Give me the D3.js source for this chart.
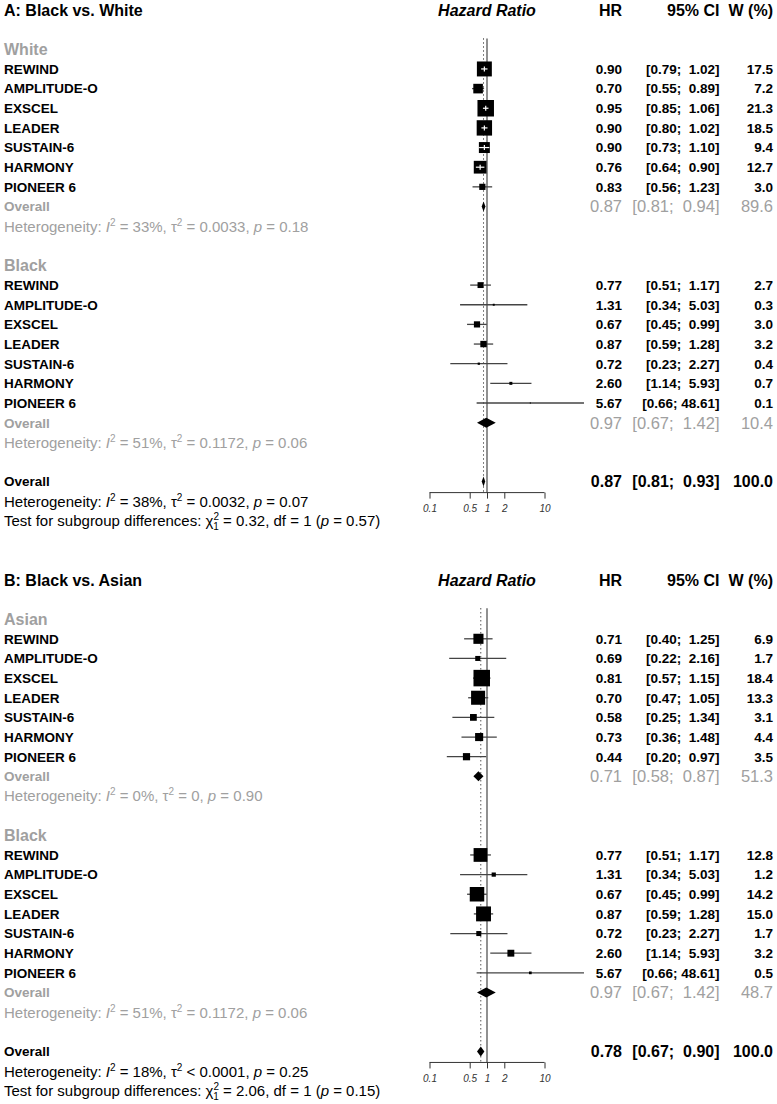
<!DOCTYPE html>
<html>
<head>
<meta charset="utf-8">
<script src="https://cdn.jsdelivr.net/npm/d3@7"></script>
<style>
  body { margin: 0; background: #fff; }
  svg text { font-family: "Liberation Sans", Arial, Helvetica, sans-serif; white-space: pre; }
</style>
</head>
<body>
<div id="chart"></div>
<script>
// studies, same order in every subgroup
const studies = ["REWIND", "AMPLITUDE-O", "EXSCEL", "LEADER", "SUSTAIN-6", "HARMONY", "PIONEER 6"];

// panel A: Black vs. White
const whiteHR = [0.90, 0.70, 0.95, 0.90, 0.90, 0.76, 0.83];
const whiteLo = [0.79, 0.55, 0.85, 0.80, 0.73, 0.64, 0.56];
const whiteHi = [1.02, 0.89, 1.06, 1.02, 1.10, 0.90, 1.23];
const whiteW  = [17.5, 7.2, 21.3, 18.5, 9.4, 12.7, 3.0];
const whiteOverall = [0.87, 0.81, 0.94, 89.6];

const blackHR = [0.77, 1.31, 0.67, 0.87, 0.72, 2.60, 5.67];
const blackLo = [0.51, 0.34, 0.45, 0.59, 0.23, 1.14, 0.66];
const blackHi = [1.17, 5.03, 0.99, 1.28, 2.27, 5.93, 48.61];
const blackWA = [2.7, 0.3, 3.0, 3.2, 0.4, 0.7, 0.1];
const blackOverallA = [0.97, 0.67, 1.42, 10.4];
const totalA = [0.87, 0.81, 0.93, 100.0];

// panel B: Black vs. Asian
const asianHR = [0.71, 0.69, 0.81, 0.70, 0.58, 0.73, 0.44];
const asianLo = [0.40, 0.22, 0.57, 0.47, 0.25, 0.36, 0.20];
const asianHi = [1.25, 2.16, 1.15, 1.05, 1.34, 1.48, 0.97];
const asianW  = [6.9, 1.7, 18.4, 13.3, 3.1, 4.4, 3.5];
const asianOverall = [0.71, 0.58, 0.87, 51.3];

const blackWB = [12.8, 1.2, 14.2, 15.0, 1.7, 3.2, 0.5];
const blackOverallB = [0.97, 0.67, 1.42, 48.7];
const totalB = [0.78, 0.67, 0.90, 100.0];

// heterogeneity: [I2, tau2 relation + value, p]
const hetWhite = ["33%", "= 0.0033", "0.18"];
const hetBlack = ["51%", "= 0.1172", "0.06"];
const hetAsian = ["0%", "= 0", "0.90"];
const hetTotalA = ["38%", "= 0.0032", "0.07"];
const hetTotalB = ["18%", "< 0.0001", "0.25"];
const testA = ["0.32", "1", "0.57"];
const testB = ["2.06", "1", "0.15"];

const axisTicks = [0.1, 0.5, 1, 2, 10];

const width = 777, height = 1104;
const grey = "#a0a0a0";

const svg = d3.select("#chart").append("svg")
    .attr("width", width)
    .attr("height", height);

const x = d3.scaleLog().domain([0.1, 10]).range([429.5, 544.5]);
const row = d3.scaleLinear().domain([0, 1]).range([10, 29.65]);

const colHR = 622, colCI = 719.5, colW = 773;

function fmt(v) { return v.toFixed(2); }
function ciText(lo, hi) {
  let h = fmt(hi);
  while (h.length < 5) h = " " + h;
  return "[" + fmt(lo) + ";" + " " + h + "]";
}

function label(g, xp, r, txt, opt) {
  opt = opt || {};
  return g.append("text")
    .attr("x", xp)
    .attr("y", row(r))
    .attr("dy", "0.36em")
    .attr("text-anchor", opt.anchor || "start")
    .attr("font-size", opt.size || 13.5)
    .attr("font-weight", opt.weight || "bold")
    .attr("font-style", opt.style || "normal")
    .attr("fill", opt.color || "#000")
    .text(txt);
}

function hetLine(g, r, het, color) {
  const t = g.append("text")
    .attr("x", 4).attr("y", row(r)).attr("dy", "0.36em")
    .attr("font-size", 15).attr("fill", color);
  t.append("tspan").text("Heterogeneity: ");
  t.append("tspan").attr("font-style", "italic").text("I");
  t.append("tspan").attr("font-size", 10).attr("dy", -6).text("2");
  t.append("tspan").attr("dy", 6).text(" = " + het[0] + ", \u03c4");
  t.append("tspan").attr("font-size", 10).attr("dy", -6).text("2");
  t.append("tspan").attr("dy", 6).text(" " + het[1] + ", ");
  t.append("tspan").attr("font-style", "italic").text("p");
  t.append("tspan").text(" = " + het[2]);
}

function testLine(g, r, test) {
  const t = g.append("text")
    .attr("x", 4).attr("y", row(r)).attr("dy", "0.36em")
    .attr("font-size", 15).attr("fill", "#000");
  t.append("tspan").text("Test for subgroup differences: \u03c7");
  t.append("tspan").attr("font-size", 10).attr("dy", -6).text("2");
  t.append("tspan").attr("font-size", 10).attr("dx", -5.6).attr("dy", 10).text("1");
  t.append("tspan").attr("dy", -4).text(" = " + test[0] + ", df = " + test[1] + " (");
  t.append("tspan").attr("font-style", "italic").text("p");
  t.append("tspan").text(" = " + test[2] + ")");
}

function diamond(g, r, est, lo, hi) {
  const yc = row(r), h = 5;
  g.append("path")
    .attr("d", "M" + x(lo) + "," + yc + "L" + x(est) + "," + (yc - h) +
               "L" + x(hi) + "," + yc + "L" + x(est) + "," + (yc + h) + "Z")
    .attr("fill", "#000");
}

function drawPanel(start, title, groups, total, hetTotal, test) {
  const g = svg.append("g");
  const wmax = d3.max(groups.flatMap(d => d.w));
  const side = d3.scaleSqrt().domain([0, wmax]).range([0, 16.5]);

  // header
  label(g, 4, start, title, { size: 16 });
  label(g, x(1), start, "Hazard Ratio", { anchor: "middle", size: 16, style: "italic" });
  label(g, colHR, start, "HR", { anchor: "end", size: 16 });
  label(g, colCI, start, "95% CI", { anchor: "end", size: 16 });
  label(g, colW, start, "W (%)", { anchor: "end", size: 16 });

  const axisY = row(start + 24) + 11;

  // reference line at 1 and dotted line at overall estimate
  g.append("line")
    .attr("x1", x(1)).attr("x2", x(1))
    .attr("y1", row(start + 1.45)).attr("y2", axisY)
    .attr("stroke", "#555").attr("stroke-width", 1.3);
  g.append("line")
    .attr("x1", x(total[0])).attr("x2", x(total[0]))
    .attr("y1", row(start + 1.45)).attr("y2", axisY)
    .attr("stroke", "#000").attr("stroke-width", 1)
    .attr("stroke-dasharray", "1,3");

  groups.forEach((grp, gi) => {
    const base = start + 2 + gi * 11;
    label(g, 4, base, grp.name, { size: 16, color: grey });

    grp.hr.forEach((hr, i) => {
      const r = base + 1 + i;
      const yc = row(r);
      const s = side(grp.w[i]);
      const lo = grp.lo[i], hi = grp.hi[i];
      const inside = x(lo) >= x(hr) - s / 2 && x(hi) <= x(hr) + s / 2;

      label(g, 4, r, studies[i]);
      label(g, colHR, r, fmt(hr), { anchor: "end" });
      label(g, colCI, r, ciText(lo, hi), { anchor: "end" });
      label(g, colW, r, grp.w[i].toFixed(1), { anchor: "end" });

      g.append("line")
        .attr("x1", x(lo)).attr("x2", x(hi))
        .attr("y1", yc).attr("y2", yc)
        .attr("stroke", "#444").attr("stroke-width", 1.3);
      g.append("rect")
        .attr("x", x(hr) - s / 2).attr("y", yc - s / 2)
        .attr("width", s).attr("height", s)
        .attr("fill", "#000");
      if (inside) {
        g.append("line")
          .attr("x1", x(lo)).attr("x2", x(hi))
          .attr("y1", yc).attr("y2", yc)
          .attr("stroke", "#fff").attr("stroke-width", 1.2);
        g.append("line")
          .attr("x1", x(hr)).attr("x2", x(hr))
          .attr("y1", yc - 2.5).attr("y2", yc + 2.5)
          .attr("stroke", "#fff").attr("stroke-width", 1.2);
      }
    });

    const ro = base + 8;
    const big = { anchor: "end", size: 16.5, weight: "normal", color: grey };
    label(g, 4, ro, "Overall", { color: grey });
    label(g, colHR, ro, fmt(grp.overall[0]), big);
    label(g, colCI, ro, ciText(grp.overall[1], grp.overall[2]), big);
    label(g, colW, ro, grp.overall[3].toFixed(1), big);
    diamond(g, ro, grp.overall[0], grp.overall[1], grp.overall[2]);
    hetLine(g, base + 9, grp.het, grey);
  });

  // overall pooled
  const rt = start + 24;
  label(g, 4, rt, "Overall");
  label(g, colHR, rt, fmt(total[0]), { anchor: "end", size: 16 });
  label(g, colCI, rt, ciText(total[1], total[2]), { anchor: "end", size: 16 });
  label(g, colW, rt, total[3].toFixed(1), { anchor: "end", size: 16 });
  diamond(g, rt, total[0], total[1], total[2]);
  hetLine(g, start + 25, hetTotal, "#000");
  testLine(g, start + 26, test);

  // x axis
  const ax = g.append("g")
    .attr("transform", "translate(0," + axisY + ")")
    .call(d3.axisBottom(x).tickValues(axisTicks).tickSize(6).tickFormat(d3.format("")));
  ax.select(".domain").attr("d", "M" + x(0.1) + ",0H" + x(10)).attr("stroke", "#333");
  ax.selectAll(".tick line").attr("stroke", "#333");
  ax.selectAll(".tick text")
    .attr("y", 12)
    .attr("font-family", "Liberation Sans, Arial, sans-serif")
    .attr("font-style", "italic")
    .attr("font-size", 10)
    .attr("fill", "#333");
}

drawPanel(0, "A: Black vs. White", [
  { name: "White", hr: whiteHR, lo: whiteLo, hi: whiteHi, w: whiteW, overall: whiteOverall, het: hetWhite },
  { name: "Black", hr: blackHR, lo: blackLo, hi: blackHi, w: blackWA, overall: blackOverallA, het: hetBlack }
], totalA, hetTotalA, testA);

drawPanel(29, "B: Black vs. Asian", [
  { name: "Asian", hr: asianHR, lo: asianLo, hi: asianHi, w: asianW, overall: asianOverall, het: hetAsian },
  { name: "Black", hr: blackHR, lo: blackLo, hi: blackHi, w: blackWB, overall: blackOverallB, het: hetBlack }
], totalB, hetTotalB, testB);
</script>
</body>
</html>
